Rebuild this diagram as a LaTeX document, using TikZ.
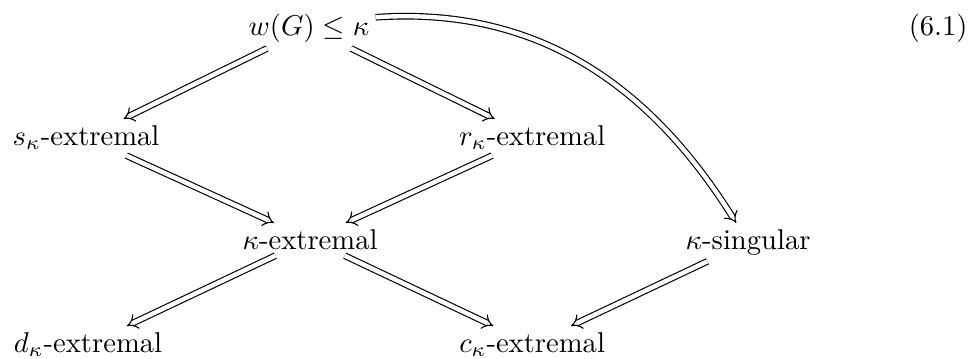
\documentclass[tikz,border=0pt]{standalone}
\usepackage{amsmath}
\usepackage{amssymb}
\usetikzlibrary{arrows.meta, positioning, calc}

\begin{document}
\begin{tikzpicture}[
    imp/.style={double, double equal sign distance, -{Implies}},
    cell/.style={anchor=base, inner sep=2pt}
  ]
  \useasboundingbox (0,0) rectangle (12.0,-4.398);

  % rows of the diagram
  \node[cell] (w) at (3.796,-0.430) {$w(G) \leq \kappa$};
  \node[cell] (s) at (1.057,-1.781) {$s_\kappa$-extremal};
  \node[cell] (r) at (6.536,-1.781) {$r_\kappa$-extremal};
  \node[cell] (k) at (3.808,-3.059) {$\kappa$-extremal};
  \node[cell] (sing) at (9.189,-3.059) {$\kappa$-singular};
  \node[cell] (d) at (1.081,-4.324) {$d_\kappa$-extremal};
  \node[cell] (c) at (6.536,-4.324) {$c_\kappa$-extremal};
  \node[cell] (eqno) at (11.523,-0.442) {(6.1)};

  % implications
  \draw[imp] (w) -- (s);
  \draw[imp] (w) -- (r);
  \draw[imp] (s) -- (k);
  \draw[imp] (r) -- (k);
  \draw[imp] (k) -- (d);
  \draw[imp] (k) -- (c);
  \draw[imp] (sing) -- (c);
  \draw[imp] ([yshift=-3.5pt]w.north east) to[out=4, in=122] (sing);
\end{tikzpicture}
\end{document}
